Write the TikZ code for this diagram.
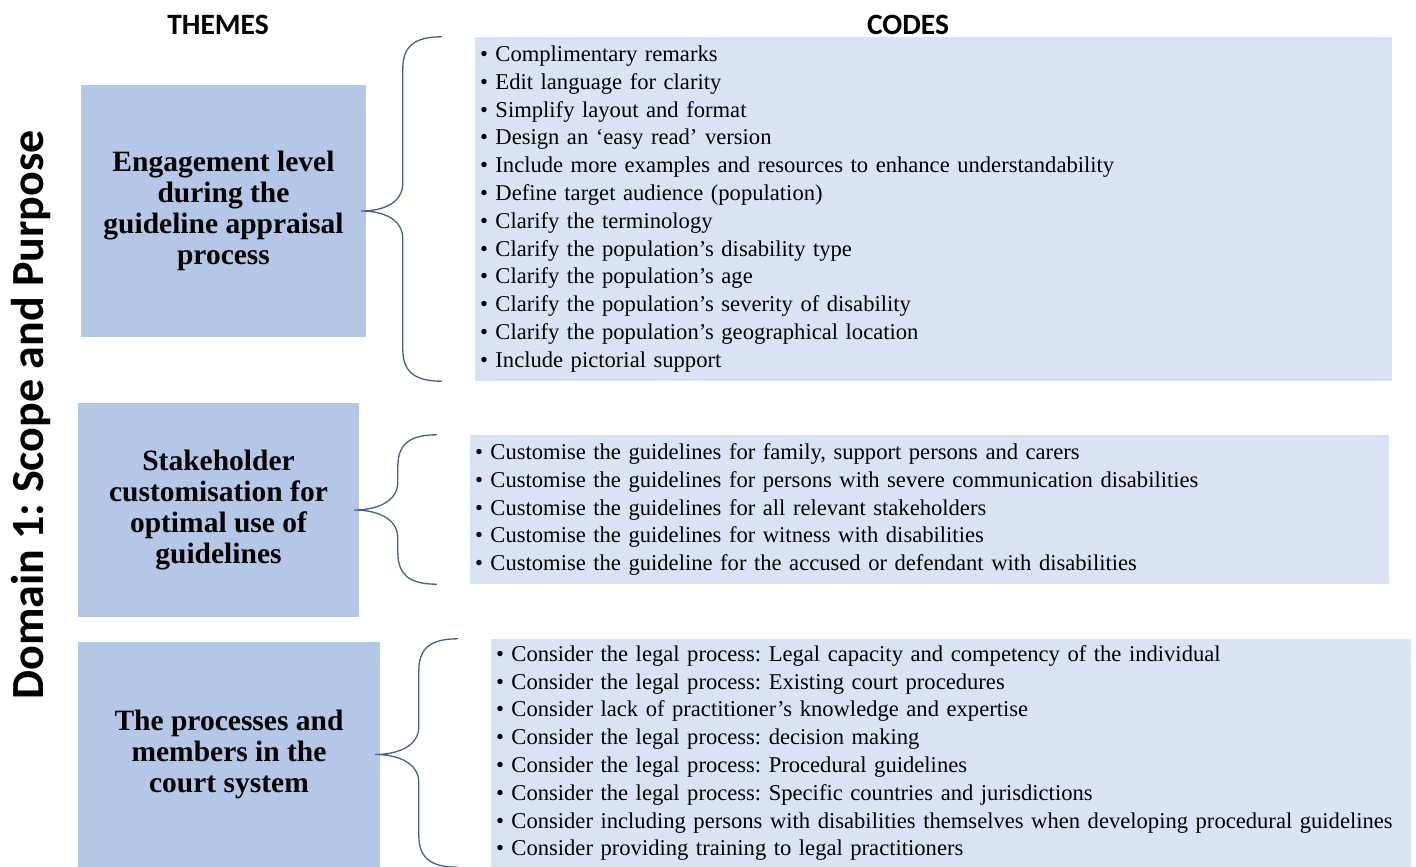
\documentclass[tikz,border=0pt]{standalone}
\usepackage{fontspec}
\setmainfont{Liberation Serif}
\newfontfamily\headfont{Carlito}
\usetikzlibrary{calc}
\frenchspacing

\definecolor{themefill}{RGB}{180,199,231}
\definecolor{codefill}{RGB}{218,227,243}
\definecolor{bracecol}{RGB}{68,94,150}

\tikzset{
  theme/.style={fill=themefill, align=center, inner sep=0pt,
    font={\fontsize{29.5}{31}\selectfont\bfseries}},
  codes/.style={fill=codefill, align=left, inner xsep=5pt, inner ysep=0pt,
    text width=#1, font={\fontsize{22.6}{27.8}\selectfont}},
  heading/.style={font={\fontsize{29.5}{32}\selectfont\headfont\bfseries}},
  bracket/.style={draw=bracecol, line width=1.3pt}
}

% curly bracket from a theme box to its list of codes
\newcommand{\themebrace}[2]{%
  \draw[bracket] let \p1=($(#1.east)+(-5,0)$), \p2=($(#2.north west)+(-33,0)$),
                     \p3=($(#2.south west)+(-33,0)$) in
    (\p2) .. controls (\x2-28pt,\y2) and (\x2-39pt,\y2-10pt) .. (\x2-39pt,\y2-32pt)
    -- (\x2-39pt,\y1+28pt) .. controls (\x2-39pt,\y1+8pt) and (\x1+22pt,\y1) .. (\p1)
    .. controls (\x1+22pt,\y1) and (\x2-39pt,\y1-8pt) .. (\x2-39pt,\y1-28pt)
    -- (\x2-39pt,\y3+32pt) .. controls (\x2-39pt,\y3+10pt) and (\x2-28pt,\y3) .. (\p3);
}

\begin{document}
\begin{tikzpicture}[x=1pt,y=-1pt]
  \useasboundingbox (0,0) rectangle (1416,867);

  \node[heading] (themes) at (218,25) {THEMES};
  \node[heading] (codes) at (908,25) {CODES};
  \node[heading, rotate=90, font={\fontsize{46}{50}\selectfont\headfont\bfseries}]
    (domain) at (31,415) {Domain 1: Scope and Purpose};

  % themes
  \node[theme, minimum width=285, minimum height=252] (engage) at (223.5,211)
    {Engagement level\\during the\\guideline appraisal\\process};
  \node[theme, minimum width=281, minimum height=214] (stake) at (218.5,510)
    {Stakeholder\\customisation for\\optimal use of\\guidelines};
  \node[theme, minimum width=302, minimum height=225] (court) at (229,754.5)
    {The processes and\\members in the\\court system};

  % codes
  \node[codes=907, minimum height=344] (engagecodes) at (933.5,209) {%
    \textbullet\ Complimentary remarks\\
    \textbullet\ Edit language for clarity\\
    \textbullet\ Simplify layout and format\\
    \textbullet\ Design an `easy read' version\\
    \textbullet\ Include more examples and resources to enhance understandability\\
    \textbullet\ Define target audience (population)\\
    \textbullet\ Clarify the terminology\\
    \textbullet\ Clarify the population's disability type\\
    \textbullet\ Clarify the population's age\\
    \textbullet\ Clarify the population's severity of disability\\
    \textbullet\ Clarify the population's geographical location\\
    \textbullet\ Include pictorial support};
  \node[codes=909, minimum height=149] (stakecodes) at (929.5,509.5) {%
    \textbullet\ Customise the guidelines for family, support persons and carers\\
    \textbullet\ Customise the guidelines for persons with severe communication disabilities\\
    \textbullet\ Customise the guidelines for all relevant stakeholders\\
    \textbullet\ Customise the guidelines for witness with disabilities\\
    \textbullet\ Customise the guideline for the accused or defendant with disabilities};
  \node[codes=910, minimum height=228] (courtcodes) at (951,753) {%
    \textbullet\ Consider the legal process: Legal capacity and competency of the individual\\
    \textbullet\ Consider the legal process: Existing court procedures\\
    \textbullet\ Consider lack of practitioner's knowledge and expertise\\
    \textbullet\ Consider the legal process: decision making\\
    \textbullet\ Consider the legal process: Procedural guidelines\\
    \textbullet\ Consider the legal process: Specific countries and jurisdictions\\
    \textbullet\ Consider including persons with disabilities themselves when developing procedural guidelines\\
    \textbullet\ Consider providing training to legal practitioners};

  \themebrace{engage}{engagecodes}
  \themebrace{stake}{stakecodes}
  \themebrace{court}{courtcodes}
\end{tikzpicture}
\end{document}
